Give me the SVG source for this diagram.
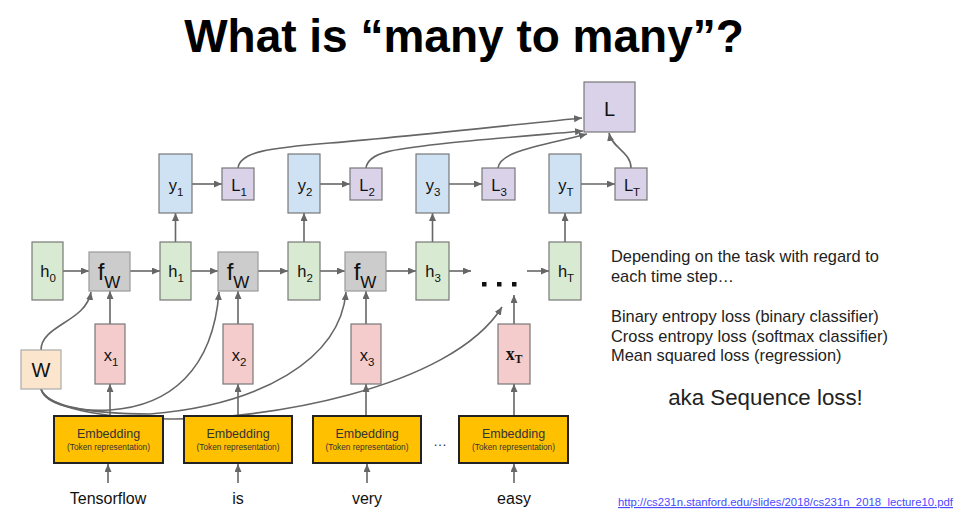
<svg xmlns="http://www.w3.org/2000/svg" width="966" height="532" viewBox="0 0 966 532">
<defs>
<marker id="ah" markerUnits="userSpaceOnUse" markerWidth="9" markerHeight="8" refX="8" refY="3.5" orient="auto"><path d="M0,0 L8,3.5 L0,7 z" fill="#666"/></marker>
<style>
text{font-family:"Liberation Sans",Arial,sans-serif;fill:#111}
.h{fill:#d9ead3;stroke:#777;stroke-width:1.2}
.y{fill:#cfe2f3;stroke:#777;stroke-width:1.2}
.l{fill:#d9d2e9;stroke:#777;stroke-width:1.2}
.f{fill:#cccccc;stroke:#999;stroke-width:1.2}
.x{fill:#f4cccc;stroke:#777;stroke-width:1.2}
.w{fill:#fce5cd;stroke:#aaa;stroke-width:1.2}
.e{fill:#ffc000;stroke:#222;stroke-width:2}
.lab{font-size:16.5px;text-anchor:middle}
.sub{font-size:11.5px}
.emb{font-size:12.5px;text-anchor:middle;fill:#333}
.tok{font-size:8.3px;text-anchor:middle;fill:#333}
.word{font-size:16px;text-anchor:middle}
.conn path,.conn line{stroke:#666;stroke-width:1.6;fill:none;marker-end:url(#ah)}
.side{font-size:16.4px;fill:#222}
</style>
</defs>

<text x="464" y="52" style="font-size:46px;font-weight:bold;text-anchor:middle;fill:#000">What is “many to many”?</text>

<g class="conn">
<!-- h row -->
<line x1="63" y1="271" x2="89" y2="271"/>
<line x1="130" y1="271" x2="160" y2="271"/>
<line x1="191" y1="271" x2="218" y2="271"/>
<line x1="258" y1="271" x2="288" y2="271"/>
<line x1="320" y1="271" x2="345" y2="271"/>
<line x1="386" y1="271" x2="416" y2="271"/>
<line x1="449" y1="271" x2="471" y2="271"/>
<line x1="527" y1="271" x2="549" y2="271"/>
<!-- h to y -->
<line x1="175.5" y1="242" x2="175.5" y2="213"/>
<line x1="304" y1="242" x2="304" y2="213"/>
<line x1="432.5" y1="242" x2="432.5" y2="213"/>
<line x1="565" y1="242" x2="565" y2="213"/>
<!-- y to L -->
<line x1="192" y1="184" x2="222" y2="184"/>
<line x1="320" y1="184" x2="350" y2="184"/>
<line x1="449" y1="184" x2="482" y2="184"/>
<line x1="581" y1="184" x2="615" y2="184"/>
<!-- L_t to L -->
<path d="M238,168 C240,152 268,148 330,143 S540,122 582,118"/>
<path d="M366,168 C368,152 395,149 440,144 S550,134 583,131"/>
<path d="M498,168 C500,151 540,146 587,134"/>
<path d="M631,168 C631,152 612,148 609,133"/>
<!-- x to fW -->
<line x1="110" y1="324" x2="110" y2="291"/>
<line x1="238" y1="324" x2="238" y2="291"/>
<line x1="366" y1="324" x2="366" y2="291"/>
<line x1="514" y1="324" x2="514" y2="295"/>
<!-- Emb to x -->
<line x1="110" y1="416" x2="110" y2="384"/>
<line x1="238" y1="416" x2="238" y2="384"/>
<line x1="366" y1="416" x2="366" y2="384"/>
<line x1="514" y1="416" x2="514" y2="384"/>
<!-- word to Emb -->
<line x1="108" y1="483" x2="108" y2="464"/>
<line x1="238" y1="483" x2="238" y2="464"/>
<line x1="367" y1="483" x2="367" y2="464"/>
<line x1="514" y1="483" x2="514" y2="464"/>
<!-- W to fW -->
<path d="M41,350 C41,325 86,322 91,292"/>
<path d="M41,389 C45,405 80,412 110,410 C170,406 213,370 219,292"/>
<path d="M41,389 C46,406 90,414 150,414 C260,405 340,360 346,292"/>
<path d="M41,389 C48,408 100,418 170,419 C260,420 450,390 502,307"/>
</g>

<g id="h0"><rect class="h" x="32" y="242" width="31" height="58"/><text class="lab" x="48" y="277">h<tspan class="sub" dy="5">0</tspan></text></g>
<g id="h1"><rect class="h" x="160" y="242" width="31" height="58"/><text class="lab" x="176" y="277">h<tspan class="sub" dy="5">1</tspan></text></g>
<g id="h2"><rect class="h" x="288" y="242" width="32" height="58"/><text class="lab" x="305" y="277">h<tspan class="sub" dy="5">2</tspan></text></g>
<g id="h3"><rect class="h" x="416" y="242" width="33" height="58"/><text class="lab" x="433" y="277">h<tspan class="sub" dy="5">3</tspan></text></g>
<g id="hT"><rect class="h" x="549" y="242" width="32" height="58"/><text class="lab" x="566" y="277">h<tspan class="sub" dy="5">T</tspan></text></g>

<g id="fW1"><rect class="f" x="89" y="252" width="41" height="39"/><text x="109" y="280" style="font-size:24px;text-anchor:middle">f<tspan style="font-size:17px" dy="8">W</tspan></text></g>
<g id="fW2"><rect class="f" x="218" y="252" width="40" height="39"/><text x="238" y="280" style="font-size:24px;text-anchor:middle">f<tspan style="font-size:17px" dy="8">W</tspan></text></g>
<g id="fW3"><rect class="f" x="345" y="252" width="41" height="39"/><text x="365" y="280" style="font-size:24px;text-anchor:middle">f<tspan style="font-size:17px" dy="8">W</tspan></text></g>

<g id="dots"><rect x="482" y="282" width="4.5" height="4.5" fill="#111"/><rect x="497" y="282" width="4.5" height="4.5" fill="#111"/><rect x="512" y="282" width="4.5" height="4.5" fill="#111"/></g>

<g id="y1"><rect class="y" x="159" y="154" width="33" height="59"/><text class="lab" x="176" y="191">y<tspan class="sub" dy="5">1</tspan></text></g>
<g id="y2"><rect class="y" x="288" y="154" width="32" height="59"/><text class="lab" x="305" y="191">y<tspan class="sub" dy="5">2</tspan></text></g>
<g id="y3"><rect class="y" x="416" y="154" width="33" height="59"/><text class="lab" x="433" y="191">y<tspan class="sub" dy="5">3</tspan></text></g>
<g id="yT"><rect class="y" x="549" y="154" width="32" height="59"/><text class="lab" x="566" y="191">y<tspan class="sub" dy="5">T</tspan></text></g>

<g id="L1"><rect class="l" x="222" y="168" width="32" height="32"/><text class="lab" x="239" y="191">L<tspan class="sub" dy="5">1</tspan></text></g>
<g id="L2"><rect class="l" x="350" y="168" width="32" height="32"/><text class="lab" x="367" y="191">L<tspan class="sub" dy="5">2</tspan></text></g>
<g id="L3"><rect class="l" x="482" y="168" width="33" height="32"/><text class="lab" x="499" y="191">L<tspan class="sub" dy="5">3</tspan></text></g>
<g id="LT"><rect class="l" x="615" y="168" width="32" height="32"/><text class="lab" x="632" y="191">L<tspan class="sub" dy="5">T</tspan></text></g>
<g id="L"><rect class="l" x="584" y="82" width="51" height="50"/><text x="609.5" y="116" style="font-size:20px;text-anchor:middle">L</text></g>

<g id="W"><rect class="w" x="21" y="350" width="40" height="39"/><text x="41" y="377" style="font-size:20px;text-anchor:middle">W</text></g>

<g id="x1"><rect class="x" x="95" y="324" width="30" height="60"/><text class="lab" x="111" y="361">x<tspan class="sub" dy="5">1</tspan></text></g>
<g id="x2"><rect class="x" x="223" y="324" width="30" height="60"/><text class="lab" x="239" y="361">x<tspan class="sub" dy="5">2</tspan></text></g>
<g id="x3"><rect class="x" x="351" y="324" width="30" height="60"/><text class="lab" x="367" y="361">x<tspan class="sub" dy="5">3</tspan></text></g>
<g id="xT"><rect class="x" x="498" y="324" width="32" height="60"/><text x="514" y="360" style="font-family:'Liberation Serif',serif;font-weight:bold;font-size:18px;text-anchor:middle">x<tspan style="font-size:11.5px" dy="3">T</tspan></text></g>

<g id="emb1"><rect class="e" x="54" y="416" width="109" height="47"/><text class="emb" x="108.5" y="438">Embedding</text><text class="tok" x="108.5" y="450">(Token representation)</text></g>
<g id="emb2"><rect class="e" x="184" y="416" width="108" height="47"/><text class="emb" x="238" y="438">Embedding</text><text class="tok" x="238" y="450">(Token representation)</text></g>
<g id="emb3"><rect class="e" x="313" y="416" width="108" height="47"/><text class="emb" x="367" y="438">Embedding</text><text class="tok" x="367" y="450">(Token representation)</text></g>
<g id="emb4"><rect class="e" x="459" y="416" width="109" height="47"/><text class="emb" x="513.5" y="438">Embedding</text><text class="tok" x="513.5" y="450">(Token representation)</text></g>
<text x="440" y="446" style="font-size:14px;text-anchor:middle;fill:#333">…</text>

<text class="word" x="108" y="504">Tensorflow</text>
<text class="word" x="238" y="504">is</text>
<text class="word" x="367" y="504">very</text>
<text class="word" x="514" y="504">easy</text>

<text class="side" x="611" y="262">Depending on the task with regard to</text>
<text class="side" x="611" y="282">each time step…</text>
<text class="side" x="611" y="322">Binary entropy loss (binary classifier)</text>
<text class="side" x="611" y="342">Cross entropy loss (softmax classifier)</text>
<text class="side" x="611" y="361">Mean squared loss (regression)</text>
<text x="765.5" y="405" style="font-size:22.3px;text-anchor:middle;fill:#222">aka Sequence loss!</text>

<text x="618" y="506" textLength="335" lengthAdjust="spacingAndGlyphs" style="font-size:11.5px;fill:#4a4aff;text-decoration:underline">http://cs231n.stanford.edu/slides/2018/cs231n_2018_lecture10.pdf</text>
</svg>
